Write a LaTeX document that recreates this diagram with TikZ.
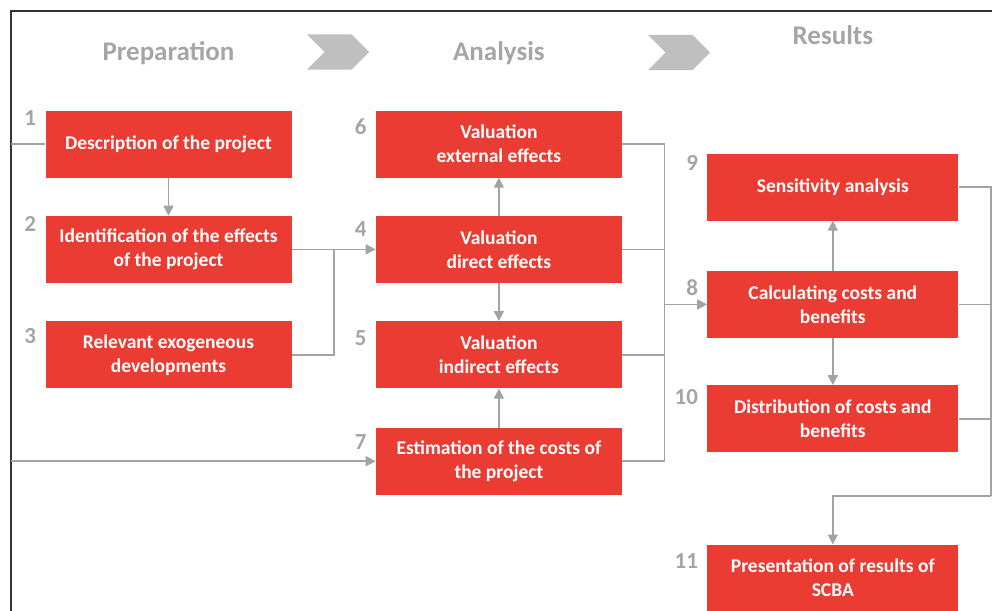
\documentclass[tikz,border=0pt]{standalone}
\usepackage{fontspec}
\setmainfont{Carlito}
\usetikzlibrary{arrows.meta,positioning,calc,shapes.symbols}

\definecolor{boxred}{HTML}{EA3C32}
\definecolor{headgray}{HTML}{A5A5A5}
\definecolor{chevgray}{HTML}{BFBFBF}
\definecolor{linegray}{HTML}{A3A3A3}

\begin{document}
\begin{tikzpicture}[
  x=1pt, y=1pt,
  box/.style={fill=boxred, text=white, align=center, inner sep=2pt,
    minimum width=246pt, minimum height=67pt,
    font=\bfseries\fontsize{19.5}{24}\selectfont},
  wbox/.style={box, minimum width=251pt},
  num/.style={text=headgray, inner sep=0pt, anchor=north east,
    font=\bfseries\fontsize{23}{26}\selectfont},
  head/.style={text=headgray, anchor=base, font=\bfseries\fontsize{27}{32}\selectfont},
  chev/.style={signal, signal to=east, signal from=west, fill=chevgray,
    minimum width=62pt, minimum height=35pt, inner sep=0pt},
  line/.style={draw=linegray, line width=1.6pt},
  arr/.style={line, -{Triangle[length=10pt,width=10pt]}}
]
\useasboundingbox (0,0) rectangle (992,-610);

% frame
\draw[line width=1.8pt, black!80] (11,-612) -- (11,-11) -- (994,-11);
\coordinate (fl) at (11,-300);

% preparation
\node[box] (desc) at (168.5,-144) {Description of the project};
\node[box, below=38pt of desc] (ident) {Identification of the effects\\of the project};
\node[box, below=38pt of ident] (exog) {Relevant exogeneous\\developments};

% analysis
\node[box, right=84pt of desc] (valext) {Valuation\\external effects};
\node[box, below=38pt of valext] (valdir) {Valuation\\direct effects};
\node[box, below=38pt of valdir] (valind) {Valuation\\indirect effects};
\node[box, below=39pt of valind] (costs) {Estimation of the costs of\\the project};

% results
\node[wbox, right=85pt of valdir, yshift=-55pt] (calc) {Calculating costs and\\benefits};
\node[wbox, above=50pt of calc] (sens) {Sensitivity analysis};
\node[wbox, below=47pt of calc] (distr) {Distribution of costs and\\benefits};
\node[wbox, below=92pt of distr] (pres) {Presentation of results of\\SCBA};

% step numbers
\foreach \n/\b/\d in {1/desc/0, 2/ident/1, 3/exog/7, 6/valext/8, 4/valdir/6, 5/valind/9, 7/costs/7, 9/sens/2, 8/calc/9, 10/distr/4, 11/pres/9}
  \node[num] at ([xshift=-9pt, yshift=-\d pt]\b.north west) {\n};

% headings
\node[head] (prep) at (desc |- 0,-60) {Preparation};
\node[head] (anal) at (valext |- 0,-60) {Analysis};
\node[head] (res) at (sens |- 0,-45) {Results};
\node[chev] (ch1) at (338,-52) {};
\node[chev] (ch2) at (679,-52.5) {};

% joins
\coordinate (lj) at ($(ident.east)!0.5!(valdir.west)$);
\coordinate (mj) at ($(valdir.east)!0.5!(calc.west)$);
\coordinate (rj) at (991,-496);

\draw[line] (desc.west -| fl) -- (desc.west);
\draw[arr] (desc) -- (ident);
\draw[line] (exog.east) -| (lj);
\draw[arr] (ident.east) -- (valdir.west);
\draw[arr] (costs.west -| fl) -- (costs.west);

\draw[arr] (valdir) -- (valext);
\draw[arr] (valdir) -- (valind);
\draw[arr] (costs) -- (valind);

\draw[line] (valext.east) -| (mj |- costs.east) -- (costs.east);
\draw[line] (valdir.east) -- (valdir.east -| mj);
\draw[line] (valind.east) -- (valind.east -| mj);
\draw[arr] (calc.west -| mj) -- (calc.west);

\draw[arr] (calc) -- (sens);
\draw[arr] (calc) -- (distr);

\draw[line] (sens.east) -| (rj);
\draw[line] (calc.east) -- (calc.east -| rj);
\draw[line] (distr.east) -- (distr.east -| rj);
\draw[arr] (rj) -| (pres.north);
\end{tikzpicture}
\end{document}
